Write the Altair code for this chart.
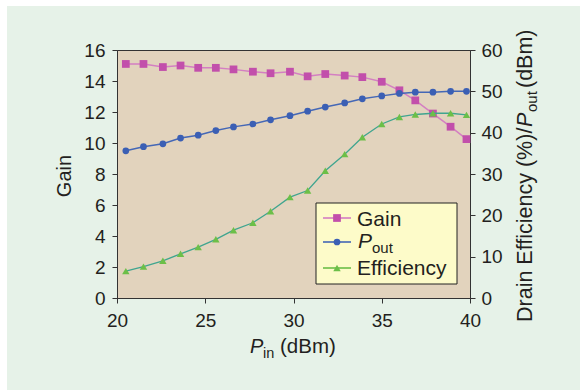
import altair as alt
import pandas as pd

# ---------------- data ----------------
pin = [20.5, 21.5, 22.6, 23.6, 24.6, 25.6, 26.6, 27.7, 28.7, 29.8,
       30.8, 31.8, 32.9, 33.9, 35.0, 36.0, 36.9, 37.9, 38.9, 39.8]
gain = [15.1, 15.1, 14.9, 15.0, 14.85, 14.85, 14.75, 14.6, 14.5, 14.6,
        14.3, 14.45, 14.35, 14.25, 13.95, 13.4, 12.75, 11.9, 11.05, 10.25]
pout = [35.6, 36.6, 37.3, 38.7, 39.4, 40.5, 41.4, 42.1, 43.1, 44.1,
        45.2, 46.2, 47.2, 48.2, 48.9, 49.5, 49.8, 49.8, 50.0, 50.0]
eff = [6.5, 7.6, 9.0, 10.7, 12.3, 14.2, 16.4, 18.2, 21.0, 24.4,
       26.0, 30.8, 34.8, 38.9, 42.1, 43.8, 44.4, 44.7, 44.7, 44.3]

x_ticks = [20, 25, 30, 35, 40]
left_ticks = [0, 2, 4, 6, 8, 10, 12, 14, 16]
right_ticks = [0, 10, 20, 30, 40, 50, 60]

legend_labels = ["Gain", "P", "out", "Efficiency"]
left_title = "Gain"
right_title = ["Drain Efficiency (%)/", "P", "out", "(dBm)"]
bottom_title = ["P", "in", "(dBm)"]

# ---------------- style ----------------
FONT = "Liberation Sans"
BG = "#e6f2e8"
PLOT_BG = "#e2d3bd"
TXT = "#231f20"
GAIN_C = "#c24fab"
GAIN_L = "#d47fc2"
POUT_C = "#3b5fb4"
POUT_L = "#4467b6"
EFF_C = "#6cbf48"
EFF_L = "#3fa58f"

W, H = 353, 248
PL, PT, PR, PB = 117, 50, 110, 92

df_left = pd.DataFrame({"pin": pin, "gain": gain})
df_right = pd.DataFrame({"pin": pin + pin, "val": pout + eff,
                         "series": ["Pout"] * len(pin) + ["Eff"] * len(pin)})

X = alt.X("pin:Q", scale=alt.Scale(domain=[20, 40], nice=False),
          axis=alt.Axis(values=x_ticks, title=None, labelFontSize=19, labelFont=FONT,
                        labelColor=TXT, tickSize=5, tickColor="#333", domainColor="#333",
                        labelPadding=8, grid=False, labelFlush=False))

Y_left = alt.Y("gain:Q", scale=alt.Scale(domain=[0, 16], nice=False),
               axis=alt.Axis(values=left_ticks, title=None, orient="left", labelFontSize=19,
                             labelFont=FONT, labelColor=TXT, tickSize=5, tickColor="#333",
                             domainColor="#333", labelPadding=7, grid=False))

Y_right = alt.Y("val:Q", scale=alt.Scale(domain=[0, 60], nice=False),
                axis=alt.Axis(values=right_ticks, title=None, orient="right", labelFontSize=19,
                              labelFont=FONT, labelColor=TXT, tickSize=5, tickColor="#333",
                              domainColor="#333", labelPadding=6, grid=False))

base_l = alt.Chart(df_left)
gain_line = base_l.mark_line(color=GAIN_L, strokeWidth=1.5).encode(x=X, y=Y_left)
gain_pts = base_l.mark_point(shape="square", filled=True, size=60, color=GAIN_C, opacity=1).encode(x=X, y=Y_left)
left_layer = alt.layer(gain_line, gain_pts)

base_r = alt.Chart(df_right)
pout_line = base_r.transform_filter("datum.series == 'Pout'").mark_line(color=POUT_L, strokeWidth=1.5).encode(x=X, y=Y_right)
pout_pts = base_r.transform_filter("datum.series == 'Pout'").mark_point(shape="circle", filled=True, size=45, color=POUT_C, opacity=1).encode(x=X, y=Y_right)
eff_line = base_r.transform_filter("datum.series == 'Eff'").mark_line(color=EFF_L, strokeWidth=1.3).encode(x=X, y=Y_right)
eff_pts = base_r.transform_filter("datum.series == 'Eff'").mark_point(shape="triangle-up", filled=True, size=55, color=EFF_C, opacity=1).encode(x=X, y=Y_right)
right_layer = alt.layer(pout_line, eff_line, pout_pts, eff_pts)

one = pd.DataFrame({"a": [0]})


def txt(s, x, y, size=20, angle=0, align="left", baseline="alphabetic", style="normal"):
    kw = dict(font=FONT, fontSize=size, align=align, baseline=baseline, color=TXT, fontStyle=style)
    if angle:
        kw["angle"] = angle
    return alt.Chart(pd.DataFrame({"t": [s]})).mark_text(**kw).encode(
        x=alt.value(x), y=alt.value(y), text="t:N")


# white border strips (top and left)
strip_top = alt.Chart(one).mark_rect(color="white").encode(
    x=alt.value(-PL), x2=alt.value(W + PR), y=alt.value(-PT), y2=alt.value(-PT + 6))
strip_left = alt.Chart(one).mark_rect(color="white").encode(
    x=alt.value(-PL), x2=alt.value(-PL + 7), y=alt.value(-PT), y2=alt.value(H + PB))

# axis titles
t_gain = txt(left_title, -46, 126, size=20, angle=270, align="center")
rt1 = txt(right_title[0], 415, 272, size=21.5, angle=270)
rt2 = txt(right_title[1], 415, 77, size=21.5, angle=270, style="italic")
rt3 = txt(right_title[2], 420, 62, size=15, angle=270)
rt4 = txt(right_title[3], 415, 38, size=21.5, angle=270)
bt1 = txt(bottom_title[0], 133, 303, size=20, style="italic")
bt2 = txt(bottom_title[1], 146, 308, size=14.5)
bt3 = txt(bottom_title[2], 163, 303, size=20.5)

# custom legend
leg_box = alt.Chart(one).mark_rect(fill="#fdfbc9", stroke="#222", strokeWidth=1).encode(
    x=alt.value(199), x2=alt.value(340), y=alt.value(153), y2=alt.value(234))


def leg_line(y, c):
    return alt.Chart(one).mark_rule(color=c, strokeWidth=1.6).encode(
        x=alt.value(206), x2=alt.value(234), y=alt.value(y))


def leg_pt(y, c, shape, size):
    return alt.Chart(one).mark_point(shape=shape, filled=True, size=size, color=c, opacity=1).encode(
        x=alt.value(220), y=alt.value(y))


legend = alt.layer(
    leg_box,
    leg_line(168, GAIN_L), leg_pt(168, GAIN_C, "square", 60),
    leg_line(192, POUT_L), leg_pt(192, POUT_C, "circle", 45),
    leg_line(218, EFF_C), leg_pt(218, EFF_C, "triangle-up", 55),
    txt(legend_labels[0], 240, 176, size=21),
    txt(legend_labels[1], 241, 198, size=21, style="italic"),
    txt(legend_labels[2], 255, 203, size=15),
    txt(legend_labels[3], 240, 225, size=21),
)

chart = alt.layer(
    left_layer, right_layer,
    strip_top, strip_left,
    t_gain, rt1, rt2, rt3, rt4, bt1, bt2, bt3,
    legend,
).resolve_scale(y="independent").properties(
    width=W, height=H,
    padding={"left": PL, "top": PT, "right": PR, "bottom": PB},
    autosize="none",
    background=BG,
).configure_view(
    fill=PLOT_BG, stroke="#333", strokeWidth=1
)

chart.save("out.html", embed_options={"renderer": "svg", "actions": False})
